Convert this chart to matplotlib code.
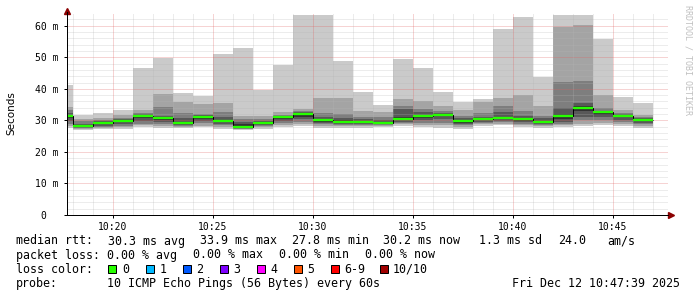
import matplotlib
matplotlib.use('Agg')
import matplotlib.pyplot as plt
import numpy as np

W, H = 697, 297
MONO = 'DejaVu Sans Mono'

# column edges, minutes after 10:00 (one smoke column per minute)
edges = np.arange(17, 48)

# 10 sorted pings per column, ms
ping_1 = [27.6, 27.1, 27.4, 27.4, 27.9, 27.6, 27.5, 27.8, 27.4, 27.0, 27.4, 28.0, 28.2, 27.6, 27.6,
          27.7, 27.8, 28.1, 27.8, 27.6, 27.4, 28.2, 28.4, 28.0, 27.6, 27.8, 28.2, 28.4, 28.2, 27.7]
ping_2 = [28.3, 27.3, 27.7, 27.9, 28.4, 28.2, 27.9, 28.3, 28.0, 27.2, 27.8, 28.6, 28.8, 28.2, 28.1,
          28.2, 28.1, 28.7, 28.5, 28.4, 28.0, 28.7, 29.0, 28.5, 28.1, 28.4, 29.0, 29.2, 28.8, 28.3]
ping_3 = [28.9, 27.5, 28.0, 28.3, 29.0, 28.8, 28.2, 29.1, 28.5, 27.4, 28.2, 29.2, 29.5, 28.7, 28.6,
          28.6, 28.4, 29.2, 29.2, 29.3, 28.5, 29.2, 29.5, 29.0, 28.5, 29.0, 30.0, 30.0, 29.5, 28.8]
ping_4 = [29.8, 27.7, 28.3, 28.8, 29.8, 29.4, 28.5, 29.9, 29.0, 27.6, 28.5, 29.8, 30.3, 29.2, 29.0,
          29.0, 28.7, 29.6, 30.1, 30.3, 29.0, 29.6, 29.9, 29.5, 28.8, 29.6, 31.0, 31.0, 30.2, 29.3]
ping_5 = [30.9, 27.9, 28.7, 29.4, 30.6, 30.1, 28.8, 30.5, 29.4, 27.8, 28.8, 30.5, 31.1, 29.6, 29.3,
          29.3, 28.9, 30.0, 30.8, 31.3, 29.3, 30.0, 30.3, 29.9, 29.1, 30.5, 33.0, 31.8, 31.0, 29.8]
ping_6 = [31.8, 28.6, 29.4, 30.1, 31.7, 30.9, 29.6, 31.3, 30.2, 28.8, 29.5, 31.2, 32.2, 30.4, 30.0,
          29.9, 29.5, 31.0, 31.8, 32.1, 30.1, 30.8, 31.1, 30.7, 29.8, 32.0, 34.5, 32.8, 31.8, 30.5]
ping_7 = [32.3, 29.0, 29.7, 30.4, 31.9, 31.5, 30.8, 31.6, 31.2, 29.6, 29.9, 31.4, 32.5, 31.0, 30.8,
          30.3, 30.0, 33.5, 32.5, 32.4, 30.6, 31.2, 32.5, 31.5, 30.6, 33.9, 35.6, 33.0, 32.0, 30.7]
ping_8 = [33.3, 29.8, 30.2, 30.9, 32.3, 34.3, 32.3, 32.0, 32.5, 30.4, 30.4, 31.8, 33.0, 32.2, 32.0,
          31.0, 31.0, 34.5, 33.5, 33.0, 31.5, 32.3, 34.4, 33.0, 31.5, 42.3, 42.6, 33.9, 32.3, 31.0]
ping_9 = [34.3, 30.5, 30.9, 31.8, 33.2, 38.2, 35.8, 35.2, 35.6, 31.4, 31.4, 32.6, 33.7, 37.0, 37.2,
          33.0, 32.8, 36.8, 36.1, 34.5, 33.2, 35.9, 37.2, 38.0, 34.4, 59.7, 60.2, 38.0, 33.3, 31.6]
ping_10 = [41.2, 31.7, 32.2, 33.3, 46.5, 49.9, 38.8, 37.7, 51.0, 52.8, 39.6, 47.5, 65.0, 65.0, 48.8,
           39.1, 34.9, 49.4, 46.5, 39.1, 35.9, 36.8, 59.0, 62.9, 43.8, 65.0, 65.0, 55.8, 37.5, 35.6]
median = [31.4, 28.2, 29.1, 29.9, 31.5, 30.6, 29.1, 31.0, 29.8, 28.0, 29.1, 31.0, 31.9, 30.0, 29.6,
          29.6, 29.1, 30.4, 31.4, 31.8, 29.7, 30.4, 30.8, 30.3, 29.4, 31.5, 34.0, 32.5, 31.5, 30.2]

loss_labels = ['0', '1', '2', '3', '4', '5', '6-9', '10/10']
loss_colors = ['#26ff00', '#00b8ff', '#0059ff', '#7e00ff', '#ff00ff', '#ff5500', '#ff0000', '#a00000']

fig = plt.figure(figsize=(W / 100, H / 100), dpi=100)
fig.patch.set_facecolor('white')
x0, x1, y0, y1 = 67, 668, 15, 215
ax = fig.add_axes([x0 / W, 1 - y1 / H, (x1 - x0) / W, (y1 - y0) / H])
ax.set_xlim(17.7, 47.75)
ax.set_ylim(0, 63.4)

# smoke: outer pair lightest, inner pair darkest
pings = [ping_1, ping_2, ping_3, ping_4, ping_5, ping_6, ping_7, ping_8, ping_9, ping_10]
for i in range(5):
    g = (190 // 5) * (4 - i) + 50
    ax.stairs(pings[9 - i], edges, baseline=pings[i], fill=True,
              color='#%02x%02x%02x' % (g, g, g), lw=0, zorder=2)

# grid on top, rrdtool style
px = 72 / 100
for v in np.arange(2, 64, 2):
    major = v % 10 == 0
    ax.axhline(v, color='#e06060' if major else '#b4b4b4', alpha=0.55 if major else 0.5,
               lw=px, ls=(0, (1, 1)), zorder=3)
for m in range(18, 48):
    major = m % 5 == 0
    ax.axvline(m, ymax=1.01, color='#e06060' if major else '#b4b4b4',
               alpha=0.55 if major else 0.5, lw=px, ls=(0, (1, 1)), zorder=3, clip_on=False)

# median
ax.stairs(median, edges, baseline=None, color='black', lw=px, zorder=4)
ax.hlines(median, edges[:-1], edges[1:], color=loss_colors[0], lw=2.3 * px, zorder=5)

for s in ['top', 'right']:
    ax.spines[s].set_visible(False)
for s in ['left', 'bottom']:
    ax.spines[s].set_linewidth(px)
    ax.spines[s].set_zorder(6)

# arrows
ax.plot([0], [1 + 4 / 200], marker='^', ms=4.5, color='#8b0000', mec='#8b0000',
        transform=ax.transAxes, clip_on=False)
ax.plot([0, 0], [1, 1 + 3 / 200], color='black', lw=px, transform=ax.transAxes, clip_on=False)
ax.plot([1 + 2.5 / 601], [0], marker='>', ms=4.5, color='#8b0000', mec='#8b0000',
        transform=ax.transAxes, clip_on=False)

ax.set_yticks(range(0, 61, 10))
ax.set_yticklabels(['0  '] + ['%d m' % v for v in range(10, 61, 10)])
ax.set_xticks(range(20, 46, 5))
ax.set_xticklabels(['10:%02d' % m for m in range(20, 46, 5)])
ax.tick_params(axis='both', length=2, width=px, direction='out', labelsize=7,
               colors='black')
ax.tick_params(axis='y', pad=4)
ax.tick_params(axis='x', pad=3)
for lab in ax.get_xticklabels() + ax.get_yticklabels():
    lab.set_fontfamily(MONO)

fig.text(11 / W, 1 - 113 / H, 'Seconds', rotation=90, ha='center', va='center',
         fontsize=7.5, family='DejaVu Sans')
fig.text(688 / W, 1 - 60 / H, 'RRDTOOL / TOBI OETIKER', rotation=270, ha='center',
         va='center', fontsize=6, family=MONO, color='#c0c0c0')


def txt(x, y, s, **kw):
    fig.text(x / W, 1 - y / H, s, va='center', fontsize=8.4, family=MONO, **kw)


r1 = 241
txt(16, r1, 'median rtt:')
for x, s in [(108, '30.3 ms avg'), (200, '33.9 ms max'), (291.7, '27.8 ms min'),
             (383.3, '30.2 ms now'), (479, '1.3 ms sd'), (558, '24.0'), (607, 'am/s')]:
    txt(x, r1, s)

r2 = 255
txt(16, r2, 'packet loss:')
for x, s in [(107.3, '0.00 % avg'), (193.3, '0.00 % max'), (279.3, '0.00 % min'),
             (365, '0.00 % now')]:
    txt(x, r2, s)

r3 = 269.3
txt(16, r3, 'loss color:')
box_x = [108.3, 145.7, 182.7, 219.7, 256.7, 293.7, 330.7, 379.5]
for bx, lab, col in zip(box_x, loss_labels, loss_colors):
    fig.patches.append(plt.Rectangle((bx / W, 1 - (r3 + 4) / H), 8 / W, 8 / H,
                                     transform=fig.transFigure, facecolor=col,
                                     edgecolor='black', lw=px))
    txt(bx + 13.5, r3, lab)

r4 = 283.3
txt(16, r4, 'probe:')
txt(107.3, r4, '10 ICMP Echo Pings (56 Bytes) every 60s')
txt(512, r4, 'Fri Dec 12 10:47:39 2025')

fig.savefig('out.png', dpi=100, facecolor='white')
